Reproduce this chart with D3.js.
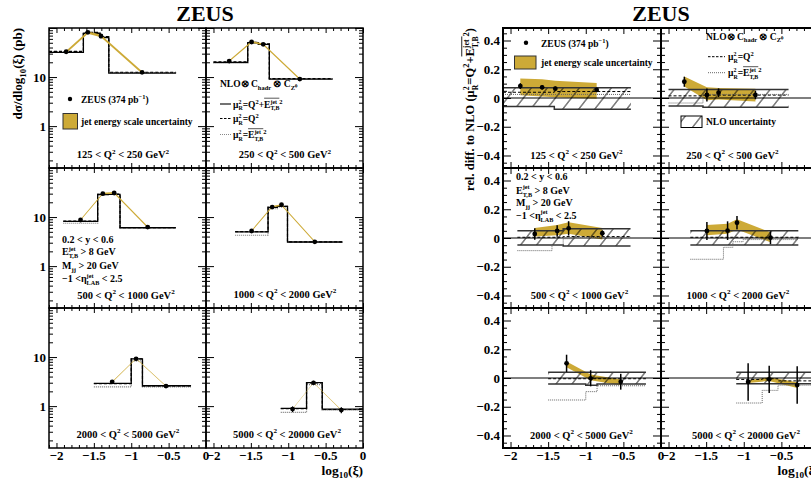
<!DOCTYPE html>
<html><head><meta charset="utf-8">
<script src="https://cdn.jsdelivr.net/npm/d3@7"></script>
<style>
body{margin:0;background:#fff}
text{font-family:"Liberation Serif","Times New Roman",serif;font-weight:bold;white-space:pre;fill:#000}
</style></head><body>
<svg id="c" width="811" height="479" xmlns="http://www.w3.org/2000/svg"></svg>
<script>
// ---------------- data ----------------
const q2Labels = ["125 < Q^{2} < 250 GeV^{2}","250 < Q^{2} < 500 GeV^{2}","500 < Q^{2} < 1000 GeV^{2}",
                  "1000 < Q^{2} < 2000 GeV^{2}","2000 < Q^{2} < 5000 GeV^{2}","5000 < Q^{2} < 20000 GeV^{2}"];
const binEdges = [[-2.1,-1.64,-1.418,-1.30,-0.40],[-2.0,-1.542,-1.40,-1.253,-0.405],[-1.909,-1.449,-1.30,-1.15,-0.405],
                  [-1.71,-1.27,-1.145,-1.01,-0.275],[-1.5,-1.0,-0.85,-0.2],[-1.1,-0.755,-0.545,0.0]];
const nloXsec = [[32,78,64,12],[20,50,46.5,9.1],[8.2,29,29,6.05],[5.0,15.8,16.5,3.1],[2.9,9.2,2.6],[0.9,3.0,0.87]];
const relQ2 = [[0.04,0.04,0.045,0.045],[0.015,0.02,0.02,0.02],[0.005,0.005,0.01,0.01],[0.005,0.005,0.005,0.005],[-0.005,-0.005,-0.005],[-0.01,-0.005,-0.02]];
const relET = [[0.025,0.025,0.025,0.025],[-0.035,0.025,0.025,0.025],[-0.088,-0.049,-0.005,0.005],[-0.148,-0.065,-0.026,-0.011],[-0.153,-0.095,-0.054],[-0.174,-0.086,-0.05]];
const nloUncUp = [[0.072,0.072,0.072,0.072],[0.06,0.06,0.06,0.06],[0.051,0.051,0.065,0.065],[0.051,0.051,0.051,0.051],[0.04,0.04,0.04],[0.04,0.04,0.04]];
const nloUncDn = [[-0.06,-0.06,-0.079,-0.079],[-0.056,-0.065,-0.065,-0.065],[-0.049,-0.049,-0.056,-0.056],[-0.049,-0.049,-0.049,-0.049],[-0.042,-0.05,-0.042],[-0.04,-0.04,-0.04]];
const dataX = [[-1.87,-1.58,-1.405,-0.855],[-1.79,-1.49,-1.335,-0.845],[-1.678,-1.38,-1.228,-0.78],[-1.49,-1.215,-1.09,-0.645],[-1.255,-0.935,-0.535],[-0.942,-0.662,-0.29]];
const dataXsec = [[32.8,81.7,68.7,12.5],[21.2,51.8,46.5,9.1],[8.7,29.9,30.9,6.25],[5.2,16.0,17.8,3.13],[3.13,9.2,2.56],[0.87,2.99,0.83]];
const dataRel = [[0.083,0.074,0.065,0.056],[0.113,0.021,0.037,0.021],[0.028,0.049,0.067,0.033],[0.049,0.051,0.106,0.002],[0.102,-0.002,-0.026],[-0.028,-0.009,-0.049]];
const dataErr = [[0.02,0.015,0.015,0.015],[0.035,0.045,0.03,0.03],[0.04,0.04,0.05,0.02],[0.063,0.065,0.047,0.045],[0.06,0.056,0.055],[0.13,0.095,0.13]];
const jesLo = [[0.02,0.01,0.005,-0.005],[0.08,-0.015,-0.01,-0.025],[0.01,0.02,0.03,-0.01],[0.02,0.03,0.06,-0.03],[0.075,-0.015,-0.05],[-0.035,-0.02,-0.07]];
const jesHi = [[0.135,0.13,0.12,0.105],[0.15,0.075,0.07,0.065],[0.07,0.09,0.11,0.07],[0.09,0.1,0.13,0.04],[0.115,0.025,-0.01],[-0.015,0.005,-0.03]];
const xTickLabels = [-2,-1.5,-1,-0.5,0];
const xsecTickLabels = [1,10];
const relTickLabels = [-0.4,-0.2,0,0.2,0.4];

// ---------------- layout ----------------
const GOLD = "#cdaa37";
const ROWY = [28,168,308], PH = 140;
const LX0 = [49,206], LW = 157;
const RX0 = [503,661], RW = 158;
const XDOM = [-2.1,0];
const svg = d3.select("#c");
const defs = svg.append("defs");
defs.append("pattern").attr("id","hatch").attr("patternUnits","userSpaceOnUse")
  .attr("width",16).attr("height",16).attr("patternTransform","skewX(-38)")
  .append("line").attr("x1",8).attr("y1",-1).attr("x2",8).attr("y2",17)
  .attr("stroke","#000").attr("stroke-width",1);

// rich text
function parseRich(s){
  const out=[]; let i=0, buf="";
  const flush=()=>{ if(buf){out.push({t:"b",s:buf}); buf="";} };
  const readGroup=()=>{ let depth=0; const start=i+1;
    for(; i<s.length; i++){ if(s[i]==="{")depth++; else if(s[i]==="}"){ depth--; if(depth===0){ const g=s.slice(start,i); i++; return g; } } } return ""; };
  while(i<s.length){
    const c=s[i];
    if((c==="^"||c==="_"||c==="%"||c==="~") && s[i+1]==="{"){
      flush(); i++; const g=readGroup();
      if(c==="^") out.push({t:"sup",s:g});
      else if(c==="_") out.push({t:"sub",s:g});
      else if(c==="%"){ const p=g.split("|"); out.push({t:"stack",a:p[0],b:p[1]}); }
      else out.push({t:"ov",inner:parseRich(g)});
    } else { buf+=c; i++; }
  }
  flush(); return out;
}
function txt(g,s,x,y,fs){ const t=g.append("text").attr("x",x).attr("y",y).attr("font-size",fs).text(s); return t.node().getComputedTextLength(); }
function layout(g,toks,cx,size){
  for(const tk of toks){
    if(tk.t==="b") cx+=txt(g,tk.s,cx,0,size);
    else if(tk.t==="sup") cx+=txt(g,tk.s,cx,-0.4*size,0.68*size);
    else if(tk.t==="sub") cx+=txt(g,tk.s,cx,0.28*size,0.68*size);
    else if(tk.t==="stack"){ const a=txt(g,tk.a,cx,-0.42*size,0.62*size); const b=txt(g,tk.b,cx,0.3*size,0.62*size); cx+=Math.max(a,b); }
    else if(tk.t==="ov"){ const x0=cx; cx=layout(g,tk.inner,cx,size);
      g.append("line").attr("x1",x0).attr("x2",cx).attr("y1",-0.98*size).attr("y2",-0.98*size).attr("stroke","#000").attr("stroke-width",size*0.07); }
  }
  return cx;
}
function rich(parent,str,x,y,size,anchor,rot){
  const g=parent.append("g"); const inner=g.append("g");
  const w=layout(inner,parseRich(str),0,size);
  const dx = anchor==="end"? -w : anchor==="middle"? -w/2 : 0;
  inner.attr("transform",`translate(${dx},0)`);
  g.attr("transform",`translate(${x},${y}) rotate(${rot||0})`);
  return g;
}

const xMinor = d3.range(-21,1).filter(k=>k%5!==0).map(k=>k/10);
const logMajor = [0.1,1,10,100];
const logMinor = [];
[0.1,1,10].forEach(d=>{ for(let k=2;k<=9;k++){ const v=k*d; if(v>=0.14 && v<=100) logMinor.push(v); } });
const relMinor = d3.range(-9,10).filter(k=>k%4!==0).map(k=>k*0.05);

function drawTicks(g,x,y,x0,y0,w,h,yMaj,yMin,L){
  const mk=(axis,tx,ty)=>g.append("g").attr("transform",`translate(${tx},${ty})`).call(axis)
      .call(s=>s.select(".domain").remove()).call(s=>s.selectAll("text").remove())
      .selectAll("line").attr("stroke","#000").attr("stroke-width",1);
  mk(d3.axisBottom(x).tickValues(xTickLabels).tickSize(-L.xM),0,y0+h);
  mk(d3.axisBottom(x).tickValues(xMinor).tickSize(-L.xm),0,y0+h);
  mk(d3.axisTop(x).tickValues(xTickLabels).tickSize(-L.xM),0,y0);
  mk(d3.axisTop(x).tickValues(xMinor).tickSize(-L.xm),0,y0);
  mk(d3.axisLeft(y).tickValues(yMaj).tickSize(-L.yM),x0,0);
  mk(d3.axisLeft(y).tickValues(yMin).tickSize(-L.ym),x0,0);
  mk(d3.axisRight(y).tickValues(yMaj).tickSize(-L.yM),x0+w,0);
  mk(d3.axisRight(y).tickValues(yMin).tickSize(-L.ym),x0+w,0);
}
const fmt = d3.format("~g");

function stepPts(i,vals){ const e=binEdges[i]; const p=vals.map((v,j)=>[e[j],v]); p.push([e[e.length-1],vals[vals.length-1]]); return p; }

// ---------------- titles ----------------
svg.append("text").attr("x",205).attr("y",21).attr("font-size",22).attr("text-anchor","middle").text("ZEUS");
svg.append("text").attr("x",661).attr("y",21).attr("font-size",22).attr("text-anchor","middle").text("ZEUS");

// ---------------- left figure ----------------
for(let i=0;i<6;i++){
  const r=Math.floor(i/2), c=i%2, x0=LX0[c], y0=ROWY[r];
  const x=d3.scaleLinear(XDOM,[x0,x0+LW]);
  const y=d3.scaleLog([0.14,100],[y0+PH,y0]);
  const g=svg.append("g");
  const ln=d3.line().x(d=>x(d[0])).y(d=>y(d[1])).curve(d3.curveStepAfter);
  g.append("path").attr("d",ln(stepPts(i,nloXsec[i].map((v,j)=>v*(1+relET[i][j]))))).attr("fill","none").attr("stroke","#777").attr("stroke-width",1.2).attr("stroke-dasharray","1,1");
  g.append("path").attr("d",ln(stepPts(i,nloXsec[i]))).attr("fill","none").attr("stroke","#000").attr("stroke-width",1.3);
  g.append("path").attr("d",ln(stepPts(i,nloXsec[i].map((v,j)=>v*(1+relQ2[i][j]))))).attr("fill","none").attr("stroke","#000").attr("stroke-width",1.2).attr("stroke-dasharray","3,2");
  const band=dataX[i].map((xx,j)=>({x:xx,lo:dataXsec[i][j]*(1+jesLo[i][j]-dataRel[i][j]),hi:dataXsec[i][j]*(1+jesHi[i][j]-dataRel[i][j])}));
  g.append("path").attr("d",d3.area().x(d=>x(d.x)).y0(d=>y(d.lo)).y1(d=>y(d.hi))(band)).attr("fill",GOLD);
  dataX[i].forEach((xx,j)=>{
    const v=dataXsec[i][j], e=dataErr[i][j]*v/(1+dataRel[i][j]);
    g.append("line").attr("x1",x(xx)).attr("x2",x(xx)).attr("y1",y(v-e)).attr("y2",y(v+e)).attr("stroke","#000").attr("stroke-width",1.2);
    g.append("circle").attr("cx",x(xx)).attr("cy",y(v)).attr("r",2.4).attr("fill","#000");
  });
  drawTicks(g,x,y,x0,y0,LW,PH,logMajor.filter(v=>v>=0.14),logMinor,{xM:5,xm:3,yM:8,ym:4});
  g.append("rect").attr("x",x0).attr("y",y0).attr("width",LW).attr("height",PH).attr("fill","none").attr("stroke","#000").attr("stroke-width",1.5);
  if(c===0) xsecTickLabels.forEach(v=>g.append("text").attr("x",x0-3).attr("y",y(v)+4.5).attr("font-size",13).attr("text-anchor","end").text(fmt(v)));
  if(r===2) xTickLabels.forEach(v=>g.append("text").attr("x",x(v)).attr("y",460).attr("font-size",13).attr("text-anchor","middle").text(fmt(v)));
}
// left legends & labels
{
  const g=svg.append("g");
  g.append("circle").attr("cx",70).attr("cy",99).attr("r",2.2).attr("fill","#000");
  rich(g,"ZEUS (374 pb^{−1})",81,102.5,9.5,"start");
  g.append("rect").attr("x",63).attr("y",113.5).attr("width",14.5).attr("height",15.5).attr("fill",GOLD).attr("stroke","#333").attr("stroke-width",1);
  rich(g,"jet energy scale uncertainty",81,124.5,9.5,"start");
  rich(g,q2Labels[0],123,158,10.5,"middle");

  rich(g,"NLO⊗ C_{hadr} ⊗ C_{Z⁰}",220,87,9.5,"start");
  g.append("line").attr("x1",220).attr("x2",231).attr("y1",104).attr("y2",104).attr("stroke","#444").attr("stroke-width",1.5);
  rich(g,"μ%{2|R}=Q^{2}+~{E%{jet|T,B}}^{2}",233,107.5,9.5,"start");
  g.append("line").attr("x1",220).attr("x2",231).attr("y1",118.5).attr("y2",118.5).attr("stroke","#000").attr("stroke-width",1.2).attr("stroke-dasharray","2.5,1.5");
  rich(g,"μ%{2|R}=Q^{2}",233,122,9.5,"start");
  g.append("line").attr("x1",220).attr("x2",231).attr("y1",134.5).attr("y2",134.5).attr("stroke","#888").attr("stroke-width",1.2).attr("stroke-dasharray","1,1");
  rich(g,"μ%{2|R}=~{E%{jet|T,B}}^{2}",233,138,9.5,"start");
  rich(g,q2Labels[1],285,158,10.5,"middle");

  rich(g,"0.2 < y < 0.6",62,243,10,"start");
  rich(g,"E%{jet|T,B} > 8 GeV",62,255,10,"start");
  rich(g,"M_{jj} > 20 GeV",62,269,10,"start");
  rich(g,"−1 <η%{jet|LAB} < 2.5",62,282,10,"start");
  rich(g,q2Labels[2],126,298.5,10.5,"middle");
  rich(g,q2Labels[3],285,297.5,10.5,"middle");
  rich(g,q2Labels[4],128,437.5,10.5,"middle");
  rich(g,q2Labels[5],287,437.5,10.5,"middle");

  rich(g,"dσ/dlog_{10}(ξ) (pb)",22,28,13,"end",-90);
  rich(g,"log_{10}(ξ)",363,474.5,13.5,"end");
}

// ---------------- right figure ----------------
for(let i=0;i<6;i++){
  const r=Math.floor(i/2), c=i%2, x0=RX0[c], y0=ROWY[r];
  const x=d3.scaleLinear(XDOM,[x0,x0+RW]);
  const y=d3.scaleLinear([-0.487,0.487],[y0+PH,y0]);
  const g=svg.append("g");
  const band=dataX[i].map((xx,j)=>({x:xx,lo:jesLo[i][j],hi:jesHi[i][j]}));
  g.append("path").attr("d",d3.area().x(d=>x(d.x)).y0(d=>y(d.lo)).y1(d=>y(d.hi))(band)).attr("fill",GOLD);
  const up=stepPts(i,nloUncUp[i]), dn=stepPts(i,nloUncDn[i]);
  const hb=up.map((p,j)=>({x:p[0],u:p[1],d:dn[j][1]}));
  g.append("path").attr("d",d3.area().x(d=>x(d.x)).y0(d=>y(d.d)).y1(d=>y(d.u)).curve(d3.curveStepAfter)(hb)).attr("fill","url(#hatch)");
  const ln=d3.line().x(d=>x(d[0])).y(d=>y(d[1])).curve(d3.curveStepAfter);
  g.append("path").attr("d",ln(up)).attr("fill","none").attr("stroke","#333").attr("stroke-width",1.5);
  g.append("path").attr("d",ln(dn)).attr("fill","none").attr("stroke","#333").attr("stroke-width",1.5);
  g.append("line").attr("x1",x0).attr("x2",x0+RW).attr("y1",y(0)).attr("y2",y(0)).attr("stroke","#000").attr("stroke-width",1.2);
  g.append("path").attr("d",ln(stepPts(i,relQ2[i]))).attr("fill","none").attr("stroke","#000").attr("stroke-width",1).attr("stroke-dasharray","3,2");
  g.append("path").attr("d",ln(stepPts(i,relET[i]))).attr("fill","none").attr("stroke","#666").attr("stroke-width",1).attr("stroke-dasharray","1,1");
  dataX[i].forEach((xx,j)=>{
    const v=dataRel[i][j], e=dataErr[i][j];
    g.append("line").attr("x1",x(xx)).attr("x2",x(xx)).attr("y1",y(v-e)).attr("y2",y(v+e)).attr("stroke","#000").attr("stroke-width",1.5);
    g.append("circle").attr("cx",x(xx)).attr("cy",y(v)).attr("r",2.4).attr("fill","#000");
  });
  drawTicks(g,x,y,x0,y0,RW,PH,relTickLabels,relMinor,{xM:6,xm:3,yM:8,ym:4});
  g.append("rect").attr("x",x0).attr("y",y0).attr("width",RW).attr("height",PH).attr("fill","none").attr("stroke","#000").attr("stroke-width",2);
  if(c===0) relTickLabels.forEach(v=>g.append("text").attr("x",x0-3).attr("y",y(v)+4.5).attr("font-size",13).attr("text-anchor","end").text(fmt(v)));
  if(r===2) xTickLabels.forEach(v=>g.append("text").attr("x",x(v)).attr("y",460).attr("font-size",13).attr("text-anchor","middle").text(fmt(v)));
}
{
  const g=svg.append("g");
  g.append("circle").attr("cx",526).attr("cy",42.7).attr("r",2.2).attr("fill","#000");
  rich(g,"ZEUS (374 pb^{−1})",541,46.5,9.5,"start");
  g.append("rect").attr("x",514.5).attr("y",56).attr("width",21.5).attr("height",13).attr("fill",GOLD).attr("stroke","#333").attr("stroke-width",1);
  rich(g,"jet energy scale uncertainty",541,65.5,9.5,"start");
  rich(g,q2Labels[0],576.5,158.5,10.5,"middle");

  rich(g,"NLO⊗ C_{hadr} ⊗ C_{Z⁰}",706,39.5,9.5,"start");
  g.append("line").attr("x1",708).attr("x2",725).attr("y1",56.7).attr("y2",56.7).attr("stroke","#000").attr("stroke-width",1).attr("stroke-dasharray","2.5,1.5");
  rich(g,"μ%{2|R}=Q^{2}",728,60,9.5,"start");
  g.append("line").attr("x1",708).attr("x2",725).attr("y1",72.7).attr("y2",72.7).attr("stroke","#666").attr("stroke-width",1).attr("stroke-dasharray","1,1");
  rich(g,"μ%{2|R}=~{E%{jet|T,B}}^{2}",728,76,9.5,"start");
  g.append("rect").attr("x",681).attr("y",116).attr("width",21).attr("height",11.5).attr("fill","url(#hatch)").attr("stroke","#000").attr("stroke-width",1);
  rich(g,"NLO uncertainty",706,124.5,9.5,"start");
  rich(g,q2Labels[1],732.5,158.5,10.5,"middle");

  rich(g,"0.2 < y < 0.6",516,180,10,"start");
  rich(g,"E%{jet|T,B} > 8 GeV",516,193.5,10,"start");
  rich(g,"M_{jj} > 20 GeV",516,206,10,"start");
  rich(g,"−1 <η%{jet|LAB} < 2.5",516,218.5,10,"start");
  rich(g,q2Labels[2],579.5,298.5,10.5,"middle");
  rich(g,q2Labels[3],738,298.5,10.5,"middle");
  rich(g,q2Labels[4],581.5,438.5,10.5,"middle");
  rich(g,q2Labels[5],746,438.5,10.5,"middle");

  rich(g,"rel. diff. to NLO (μ%{2|R}=Q^{2}+~{E%{jet|T,B}}^{2})",474,28,12.5,"end",-90);
  rich(g,"log_{10}(ξ)",819,474.5,13.5,"end");
}
</script>
</body></html>
